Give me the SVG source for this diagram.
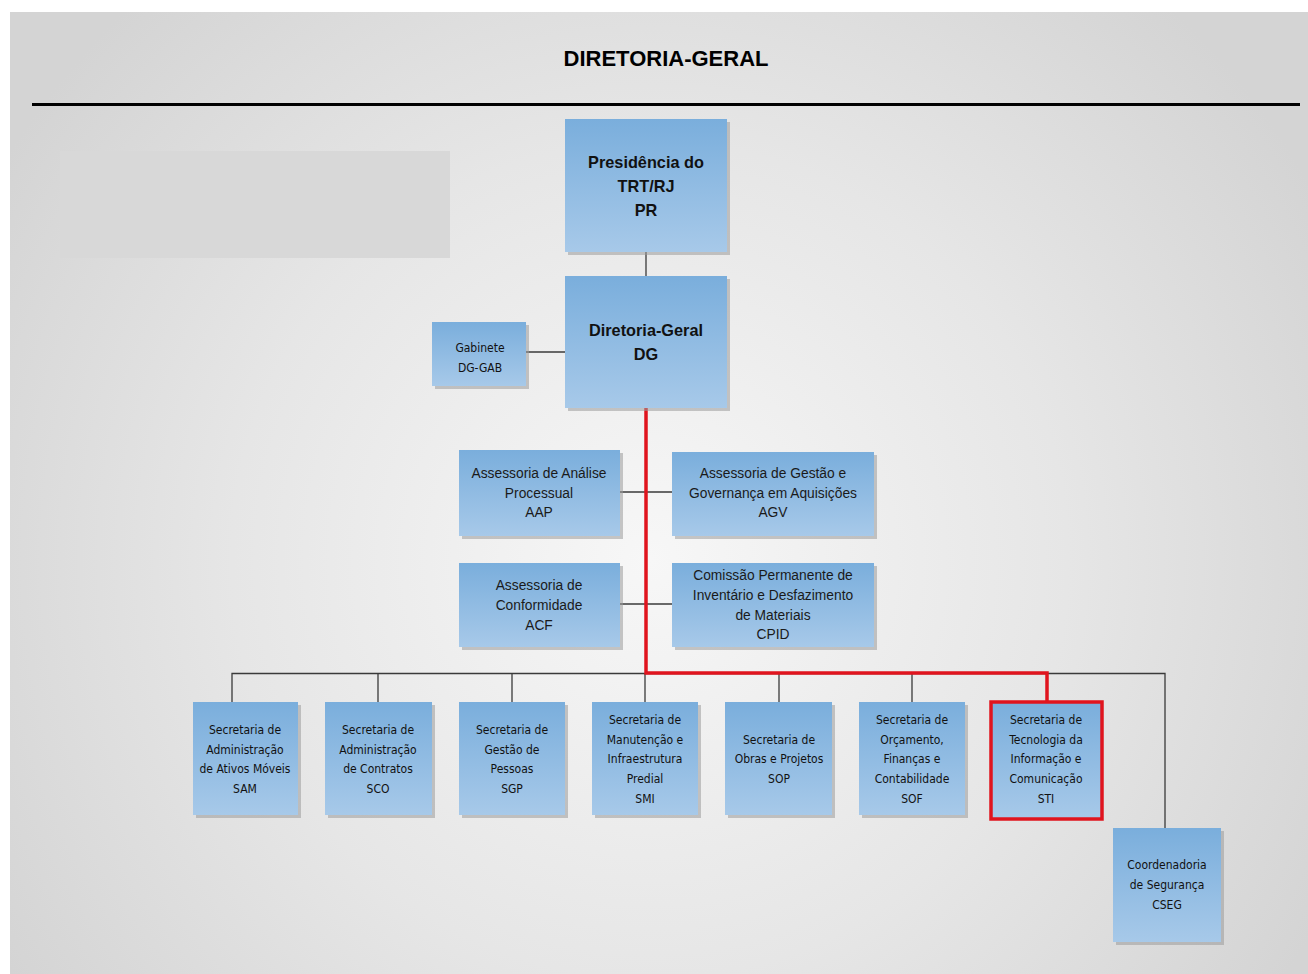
<svg xmlns="http://www.w3.org/2000/svg" width="1308" height="974" viewBox="0 0 1308 974">
<defs>
<radialGradient id="bg" cx="650" cy="560" r="760" gradientUnits="userSpaceOnUse">
<stop offset="0" stop-color="#f7f7f7"/>
<stop offset="0.55" stop-color="#e6e6e6"/>
<stop offset="1" stop-color="#d4d4d4"/>
</radialGradient>
<linearGradient id="box" x1="0" y1="0" x2="0" y2="1">
<stop offset="0" stop-color="#7aaedc"/>
<stop offset="1" stop-color="#a7c9e9"/>
</linearGradient>
</defs>
<style>
.b{fill:url(#box);}
.sh{fill:#9a9a9a;opacity:0.55;}
.c{stroke:#3a3a3a;stroke-width:1.3;fill:none;}
.red{stroke:#e0141e;stroke-width:3.5;fill:none;}
.tb{font-family:"Liberation Sans",Arial,sans-serif;font-weight:bold;font-size:16.3px;fill:#111;text-anchor:middle;}
.tm{font-family:"Liberation Sans",Arial,sans-serif;font-size:13.8px;fill:#1a1a1a;text-anchor:middle;}
.tn{font-family:"DejaVu Sans Condensed","Liberation Sans",sans-serif;font-size:12px;fill:#111;text-anchor:middle;}
</style>
<rect x="0" y="0" width="1308" height="974" fill="#ffffff"/>
<rect x="10" y="12" width="1298" height="962" fill="url(#bg)"/>
<rect x="60" y="151" width="390" height="107" fill="#d8d8d8"/>
<text x="666" y="66" font-family="Liberation Sans,Arial,sans-serif" font-weight="bold" font-size="22" text-anchor="middle" fill="#000">DIRETORIA-GERAL</text>
<line x1="32" y1="104.5" x2="1300" y2="104.5" stroke="#000" stroke-width="3"/>

<g id="connectors">
<line class="c" x1="646" y1="252" x2="646" y2="276"/>
<line class="c" x1="526" y1="352" x2="565" y2="352"/>
<line class="c" x1="620" y1="492" x2="672" y2="492"/>
<line class="c" x1="620" y1="604" x2="672" y2="604"/>
<polyline class="c" points="232,702 232,673.5 1165,673.5 1165,828"/>
<line class="c" x1="378" y1="673" x2="378" y2="702"/>
<line class="c" x1="512" y1="673" x2="512" y2="702"/>
<line class="c" x1="645" y1="673" x2="645" y2="702"/>
<line class="c" x1="779" y1="673" x2="779" y2="702"/>
<line class="c" x1="912" y1="673" x2="912" y2="702"/>
<polyline class="red" points="646,408 646,673 1047,673 1047,702"/>
</g>

<g id="pr"><rect class="sh" x="568" y="122" width="162" height="133"/><rect class="b" x="565" y="119" width="162" height="133"/>
<text class="tb"><tspan x="646" y="168">Presidência do</tspan><tspan x="646" y="192">TRT/RJ</tspan><tspan x="646" y="216">PR</tspan></text></g>
<g id="dg"><rect class="sh" x="568" y="279" width="162" height="132"/><rect class="b" x="565" y="276" width="162" height="132"/>
<text class="tb"><tspan x="646" y="336">Diretoria-Geral</tspan><tspan x="646" y="360">DG</tspan></text></g>
<g id="gab"><rect class="sh" x="435" y="325" width="94" height="64"/><rect class="b" x="432" y="322" width="94" height="64"/>
<text class="tn"><tspan x="480" y="352">Gabinete</tspan><tspan x="480" y="372">DG-GAB</tspan></text></g>

<g id="aap"><rect class="sh" x="462" y="453" width="161" height="86"/><rect class="b" x="459" y="450" width="161" height="86"/>
<text class="tm"><tspan x="539" y="478">Assessoria de Análise</tspan><tspan x="539" y="498">Processual</tspan><tspan x="539" y="517">AAP</tspan></text></g>
<g id="agv"><rect class="sh" x="675" y="455" width="202" height="84"/><rect class="b" x="672" y="452" width="202" height="84"/>
<text class="tm"><tspan x="773" y="478">Assessoria de Gestão e</tspan><tspan x="773" y="498">Governança em Aquisições</tspan><tspan x="773" y="517">AGV</tspan></text></g>
<g id="acf"><rect class="sh" x="462" y="566" width="161" height="84"/><rect class="b" x="459" y="563" width="161" height="84"/>
<text class="tm"><tspan x="539" y="590">Assessoria de</tspan><tspan x="539" y="610">Conformidade</tspan><tspan x="539" y="630">ACF</tspan></text></g>
<g id="cpid"><rect class="sh" x="675" y="566" width="202" height="84"/><rect class="b" x="672" y="563" width="202" height="84"/>
<text class="tm"><tspan x="773" y="580">Comissão Permanente de</tspan><tspan x="773" y="600">Inventário e Desfazimento</tspan><tspan x="773" y="620">de Materiais</tspan><tspan x="773" y="639">CPID</tspan></text></g>

<g id="sam"><rect class="sh" x="196" y="705" width="105" height="113"/><rect class="b" x="193" y="702" width="105" height="113"/>
<text class="tn"><tspan x="245" y="734">Secretaria de</tspan><tspan x="245" y="754">Administração</tspan><tspan x="245" y="773">de Ativos Móveis</tspan><tspan x="245" y="793">SAM</tspan></text></g>
<g id="sco"><rect class="sh" x="328" y="705" width="107" height="113"/><rect class="b" x="325" y="702" width="107" height="113"/>
<text class="tn"><tspan x="378" y="734">Secretaria de</tspan><tspan x="378" y="754">Administração</tspan><tspan x="378" y="773">de Contratos</tspan><tspan x="378" y="793">SCO</tspan></text></g>
<g id="sgp"><rect class="sh" x="462" y="705" width="106" height="113"/><rect class="b" x="459" y="702" width="106" height="113"/>
<text class="tn"><tspan x="512" y="734">Secretaria de</tspan><tspan x="512" y="754">Gestão de</tspan><tspan x="512" y="773">Pessoas</tspan><tspan x="512" y="793">SGP</tspan></text></g>
<g id="smi"><rect class="sh" x="595" y="705" width="106" height="113"/><rect class="b" x="592" y="702" width="106" height="113"/>
<text class="tn"><tspan x="645" y="724">Secretaria de</tspan><tspan x="645" y="744">Manutenção e</tspan><tspan x="645" y="763">Infraestrutura</tspan><tspan x="645" y="783">Predial</tspan><tspan x="645" y="803">SMI</tspan></text></g>
<g id="sop"><rect class="sh" x="728" y="705" width="107" height="113"/><rect class="b" x="725" y="702" width="107" height="113"/>
<text class="tn"><tspan x="779" y="744">Secretaria de</tspan><tspan x="779" y="763">Obras e Projetos</tspan><tspan x="779" y="783">SOP</tspan></text></g>
<g id="sof"><rect class="sh" x="862" y="705" width="106" height="113"/><rect class="b" x="859" y="702" width="106" height="113"/>
<text class="tn"><tspan x="912" y="724">Secretaria de</tspan><tspan x="912" y="744">Orçamento,</tspan><tspan x="912" y="763">Finanças e</tspan><tspan x="912" y="783">Contabilidade</tspan><tspan x="912" y="803">SOF</tspan></text></g>
<g id="sti"><rect class="b" x="991" y="702" width="111" height="117"/><rect class="red" x="991" y="702" width="111" height="117"/>
<text class="tn"><tspan x="1046" y="724">Secretaria de</tspan><tspan x="1046" y="744">Tecnologia da</tspan><tspan x="1046" y="763">Informação e</tspan><tspan x="1046" y="783">Comunicação</tspan><tspan x="1046" y="803">STI</tspan></text></g>
<g id="cseg"><rect class="sh" x="1116" y="831" width="108" height="114"/><rect class="b" x="1113" y="828" width="108" height="114"/>
<text class="tn"><tspan x="1167" y="869">Coordenadoria</tspan><tspan x="1167" y="889">de Segurança</tspan><tspan x="1167" y="909">CSEG</tspan></text></g>
</svg>
